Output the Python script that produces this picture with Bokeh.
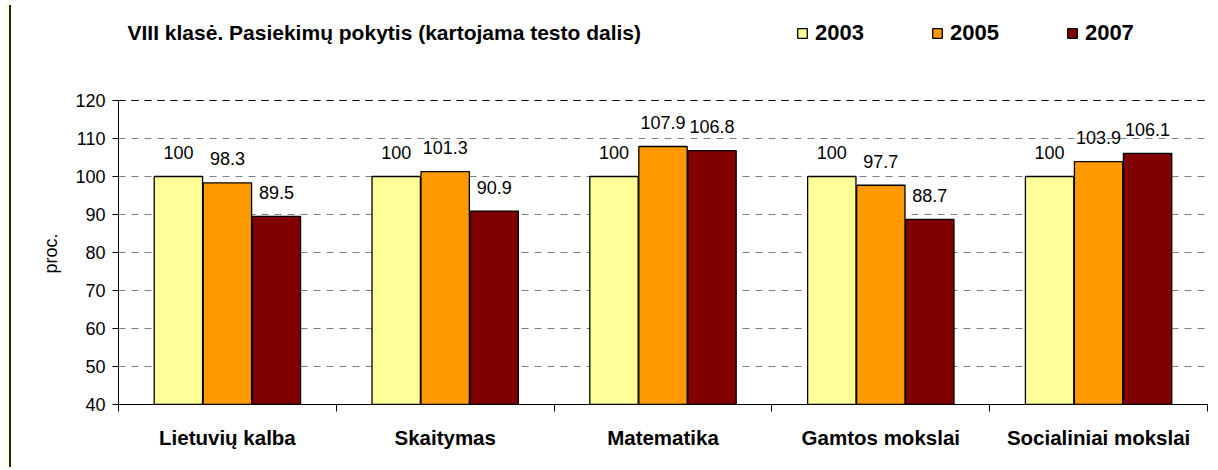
import numpy as np
from bokeh.plotting import figure
from bokeh.models import (ColumnDataSource, FixedTicker, Legend, LegendItem, Label, Span, Div, Title)
from bokeh.layouts import row
from bokeh.core.properties import value
from bokeh.embed import file_html
from bokeh.resources import INLINE

categories = ["Lietuvių kalba", "Skaitymas", "Matematika", "Gamtos mokslai", "Socialiniai mokslai"]
years = ["2003", "2005", "2007"]
v2003 = [100, 100, 100, 100, 100]
v2005 = [98.3, 101.3, 107.9, 97.7, 103.9]
v2007 = [89.5, 90.9, 106.8, 88.7, 106.1]
series = [v2003, v2005, v2007]
colors = ["#FFFF99", "#FF9900", "#800000"]
y_ticks = [40, 50, 60, 70, 80, 90, 100, 110, 120]
title_text = "VIII klasė. Pasiekimų pokytis (kartojama testo dalis)"
y_label = "proc."

FONT = "Liberation Sans"
n = len(categories)
centers = np.arange(n) + 0.5
bar_w = 0.222
offsets = [-0.225, 0.0, 0.225]

FIG_H = 462
TOP = 10
BOTTOM = 58
frame_h = FIG_H - TOP - BOTTOM
px_per_unit = 304 / (y_ticks[-1] - y_ticks[0])
y_end = y_ticks[0] + frame_h / px_per_unit

p = figure(width=1204, height=FIG_H, x_range=(0, n), y_range=(y_ticks[0], y_end),
           output_backend="svg", toolbar_location=None,
           min_border_left=102, min_border_right=13, min_border_top=TOP, min_border_bottom=BOTTOM)
p.background_fill_color = "white"
p.border_fill_color = "white"
p.outline_line_color = None

renderers = []
for vals, col, off, yr in zip(series, colors, offsets, years):
    src = ColumnDataSource(dict(x=centers + off, top=vals,
                                lab=[f"{v:g}" for v in vals]))
    r = p.vbar(x="x", top="top", bottom=0, width=bar_w, source=src,
               fill_color=col, line_color="black", line_width=1.3)
    renderers.append((yr, r))
    p.text(x="x", y="top", text="lab", source=src, text_align="center",
           text_baseline="alphabetic", y_offset=-24,
           text_font=value(FONT), text_font_size="18px", text_color="black")

# axes
xa = p.xaxis[0]
xa.ticker = FixedTicker(ticks=list(centers), minor_ticks=list(range(n + 1)))
xa.major_label_overrides = {float(c): cat for c, cat in zip(centers, categories)}
xa.major_tick_out = 0
xa.major_tick_in = 0
xa.minor_tick_out = 7
xa.minor_tick_in = 0
xa.minor_tick_line_color = "black"
xa.axis_line_color = "black"
xa.major_label_text_font = FONT
xa.major_label_text_font_style = "bold"
xa.major_label_text_font_size = "20.5px"
xa.major_label_text_color = "black"
xa.major_label_standoff = 14

ya = p.yaxis[0]
ya.ticker = FixedTicker(ticks=y_ticks, minor_ticks=[])
ya.bounds = (y_ticks[0], y_ticks[-1])
ya.major_tick_out = 6
ya.major_tick_in = 0
ya.minor_tick_out = 0
ya.minor_tick_in = 0
ya.axis_line_color = "black"
ya.major_tick_line_color = "black"
ya.major_label_text_font = FONT
ya.major_label_text_font_size = "18px"
ya.major_label_text_color = "black"
ya.major_label_standoff = 7

# y axis title, placed along the bounded part of the axis
p.add_layout(Title(text=y_label, align="left", offset=131, standoff=24,
                   text_font=FONT, text_font_style="normal", text_font_size="18px",
                   text_color="black"), "left")

p.xgrid.grid_line_color = None
p.ygrid.grid_line_color = "#808080"
p.ygrid.grid_line_dash = "7 6"
p.ygrid.grid_line_width = 1
p.add_layout(Span(location=y_ticks[-1], dimension="width", line_color="black",
                  line_dash="7 6", line_width=1))

# chart title (screen units relative to the plot frame)
p.add_layout(Label(x=9, y=372, x_units="screen", y_units="screen", text=title_text,
                   text_font=FONT, text_font_style="bold", text_font_size="21px",
                   text_baseline="middle", text_align="left", text_color="black"))

legend = Legend(items=[LegendItem(label=yr, renderers=[r]) for yr, r in renderers],
                orientation="horizontal", location=(678, 358),
                glyph_width=12, glyph_height=12, label_standoff=7, spacing=67,
                padding=0, margin=0, border_line_color=None, background_fill_alpha=0,
                label_text_font=FONT, label_text_font_style="bold",
                label_text_font_size="22px", label_text_color="black")
p.add_layout(legend)

strip = Div(text="", width=6, height=FIG_H,
            styles={"background": "linear-gradient(to right, #FFFFE0 4px, #222222 4px)"})

layout = row(strip, p)
open("out.html", "w").write(file_html(layout, INLINE))
